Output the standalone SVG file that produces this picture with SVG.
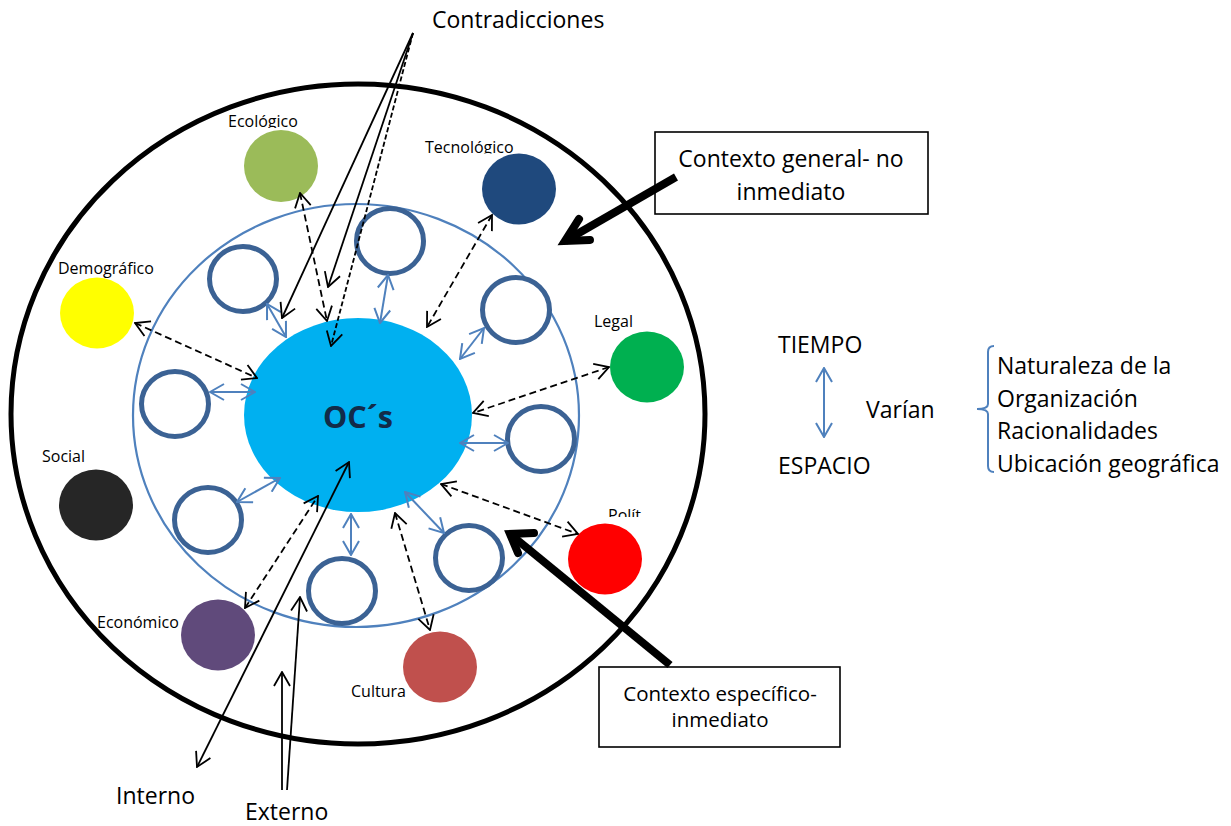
<svg xmlns="http://www.w3.org/2000/svg" width="1231" height="826" viewBox="0 0 1231 826">
  <style>
    text { font-family: "Open Sans", "Noto Sans", "DejaVu Sans", sans-serif; fill: #000; }
    .sm { font-size: 16px; }
    .lg { font-size: 23px; }
    .md { font-size: 20.5px; }
    .ring { fill: #fff; stroke: #3B6294; stroke-width: 5; }
    .dot { stroke: none; }
    .blu { stroke: #4F81BD; stroke-width: 2; fill: none; marker-start: url(#hb); marker-end: url(#hb); }
    .dash { stroke: #000; stroke-width: 1.8; fill: none; stroke-dasharray: 7 4; marker-start: url(#hk); marker-end: url(#hk); }
    .thin { stroke: #000; stroke-width: 1.8; fill: none; }
    .fine { stroke: #000; stroke-width: 1.8; fill: none; stroke-dasharray: 5 2.5; }
    .thick { stroke: #000; stroke-width: 8; fill: none; }
    .box { fill: #fff; stroke: #000; stroke-width: 1.6; }
  </style>
  <defs>
    <marker id="hk" viewBox="0 0 16 18" refX="15" refY="9" markerWidth="16" markerHeight="18" markerUnits="userSpaceOnUse" orient="auto-start-reverse">
      <path d="M1,1 L15,9 L1,17" fill="none" stroke="#000" stroke-width="1.8" stroke-dasharray="none"/>
    </marker>
    <marker id="hb" viewBox="0 0 16 18" refX="15" refY="9" markerWidth="16" markerHeight="18" markerUnits="userSpaceOnUse" orient="auto-start-reverse">
      <path d="M1,1 L15,9 L1,17" fill="none" stroke="#4F81BD" stroke-width="2"/>
    </marker>
    <clipPath id="cEco"><rect x="200" y="100" width="140" height="28"/></clipPath>
    <clipPath id="cTec"><rect x="400" y="125" width="140" height="28.5"/></clipPath>
    <clipPath id="cPol"><rect x="590" y="495" width="80" height="22"/></clipPath>
  </defs>

  <!-- general context boundary and specific context boundary -->
  <g id="contexto-general-area">
    <ellipse cx="358" cy="414" rx="347" ry="330" fill="none" stroke="#000" stroke-width="5"/>
  </g>
  <g id="contexto-especifico-area">
    <ellipse cx="356" cy="415.5" rx="223" ry="211.5" fill="none" stroke="#4F81BD" stroke-width="2.2"/>
  </g>

  <!-- specific-context actors -->
  <g id="actor-1"><ellipse class="ring" cx="243" cy="279" rx="33.5" ry="32.5"/></g>
  <g id="actor-2"><ellipse class="ring" cx="390" cy="241" rx="33.5" ry="32.5"/></g>
  <g id="actor-3"><ellipse class="ring" cx="516" cy="310" rx="33.5" ry="32.5"/></g>
  <g id="actor-4"><ellipse class="ring" cx="175" cy="404" rx="33.5" ry="32.5"/></g>
  <g id="actor-5"><ellipse class="ring" cx="541" cy="439" rx="33.5" ry="32.5"/></g>
  <g id="actor-6"><ellipse class="ring" cx="208" cy="520" rx="33.5" ry="32.5"/></g>
  <g id="actor-7"><ellipse class="ring" cx="469" cy="558" rx="33.5" ry="32.5"/></g>
  <g id="actor-8"><ellipse class="ring" cx="342" cy="591" rx="33.5" ry="32.5"/></g>

  <!-- general-context factors -->
  <g id="ecologico">
    <text class="sm" x="228" y="127" clip-path="url(#cEco)">Ecológico</text>
    <ellipse class="dot" cx="281" cy="166" rx="37" ry="36" fill="#9BBB59"/>
  </g>
  <g id="tecnologico">
    <text class="sm" x="425" y="153" clip-path="url(#cTec)">Tecnológico</text>
    <ellipse class="dot" cx="519" cy="189" rx="37" ry="35.5" fill="#1F497D"/>
  </g>
  <g id="demografico">
    <text class="sm" x="58" y="274">Demográfico</text>
    <ellipse class="dot" cx="97" cy="313" rx="37" ry="35.5" fill="#FFFF00"/>
  </g>
  <g id="legal">
    <text class="sm" x="594" y="327">Legal</text>
    <ellipse class="dot" cx="647" cy="367" rx="37" ry="35.5" fill="#00B050"/>
  </g>
  <g id="social">
    <text class="sm" x="42" y="462">Social</text>
    <ellipse class="dot" cx="96" cy="505" rx="37" ry="35.5" fill="#262626"/>
  </g>
  <g id="politico">
    <text class="sm" x="608" y="521" clip-path="url(#cPol)">Polít</text>
    <ellipse class="dot" cx="605" cy="559" rx="37" ry="35.5" fill="#FF0000"/>
  </g>
  <g id="economico">
    <text class="sm" x="97" y="628">Económico</text>
    <ellipse class="dot" cx="218" cy="635" rx="37" ry="35.5" fill="#604A7B"/>
  </g>
  <g id="cultura">
    <text class="sm" x="351" y="697">Cultura</text>
    <ellipse class="dot" cx="440" cy="667" rx="37" ry="35.5" fill="#C0504D"/>
  </g>

  <!-- the organisation at the centre -->
  <g id="ocs">
    <ellipse cx="358" cy="415" rx="114" ry="97" fill="#00B0F0"/>
    <text x="358" y="428" text-anchor="middle" font-size="31" font-weight="bold" style="fill:#122B49" textLength="70" lengthAdjust="spacingAndGlyphs">OC´s</text>
  </g>

  <!-- callout boxes -->
  <g id="box-general">
    <rect class="box" x="655" y="132" width="273" height="82"/>
    <text class="lg" x="791" y="167" text-anchor="middle">Contexto general- no</text>
    <text class="lg" x="791" y="200" text-anchor="middle">inmediato</text>
  </g>
  <g id="box-especifico">
    <rect class="box" x="599" y="667" width="241" height="80"/>
    <text class="md" x="720" y="701" text-anchor="middle">Contexto específico-</text>
    <text class="md" x="720" y="727" text-anchor="middle">inmediato</text>
  </g>

  <!-- free labels -->
  <g id="labels">
    <text class="lg" x="432" y="28">Contradicciones</text>
    <text class="lg" x="116" y="804">Interno</text>
    <text class="lg" x="245" y="820">Externo</text>
    <text class="lg" x="778" y="353">TIEMPO</text>
    <text class="lg" x="778" y="474">ESPACIO</text>
    <text class="lg" x="866" y="418">Varían</text>
    <text class="lg" x="997" y="374">Naturaleza de la</text>
    <text class="lg" x="997" y="407">Organización</text>
    <text class="lg" x="997" y="439">Racionalidades</text>
    <text class="lg" x="997" y="472">Ubicación geográfica</text>
  </g>

  <!-- connectors -->
  <g id="connectors">
    <!-- actor links -->
    <line class="blu" x1="267" y1="304" x2="286" y2="337"/>
    <line class="blu" x1="388" y1="275" x2="380" y2="323"/>
    <line class="blu" x1="484" y1="328" x2="460" y2="359"/>
    <line class="blu" x1="210" y1="392" x2="255" y2="392"/>
    <line class="blu" x1="460" y1="443" x2="508" y2="443"/>
    <line class="blu" x1="237" y1="502" x2="280" y2="478"/>
    <line class="blu" x1="405" y1="492" x2="444" y2="533"/>
    <line class="blu" x1="351" y1="514" x2="351" y2="555"/>

    <!-- factor links -->
    <line class="dash" x1="300" y1="193" x2="327" y2="321"/>
    <line class="dash" x1="492" y1="215" x2="427" y2="327"/>
    <line class="dash" x1="135" y1="323" x2="257" y2="378"/>
    <line class="dash" x1="609" y1="367" x2="473" y2="413"/>
    <line class="dash" x1="441" y1="484" x2="578" y2="534"/>
    <line class="dash" x1="395" y1="513" x2="430" y2="630"/>
    <line class="dash" x1="245" y1="608" x2="318" y2="496"/>

    <!-- contradicciones -->
    <line class="thin" x1="413" y1="33" x2="282" y2="318" marker-end="url(#hk)"/>
    <line class="thin" x1="413" y1="33" x2="328" y2="287" marker-end="url(#hk)"/>
    <line class="fine" x1="413" y1="33" x2="331" y2="346" marker-end="url(#hk)"/>

    <!-- interno / externo -->
    <line class="thin" x1="197" y1="767" x2="349" y2="462" marker-start="url(#hk)" marker-end="url(#hk)"/>
    <line class="thin" x1="287" y1="790" x2="300" y2="597" marker-end="url(#hk)"/>
    <line class="thin" x1="282" y1="790" x2="282" y2="672" marker-end="url(#hk)"/>

    <!-- callout pointers -->
    <line class="thick" x1="676" y1="177" x2="565" y2="241"/>
    <polyline class="thick" points="579,219 565,241 590,240" stroke-linecap="round" stroke-linejoin="miter"/>
    <line class="thick" x1="670" y1="665" x2="510" y2="534"/>
    <polyline class="thick" points="534,533 510,534 518,553" stroke-linecap="round" stroke-linejoin="miter"/>

    <!-- tiempo / espacio -->
    <line class="blu" x1="824" y1="368" x2="824" y2="437"/>
    <path d="M994,346 Q988,346 988,352 V404 Q988,409 977,409 Q988,409 988,414 V466 Q988,472 994,472" fill="none" stroke="#4F81BD" stroke-width="2"/>
  </g>
</svg>
